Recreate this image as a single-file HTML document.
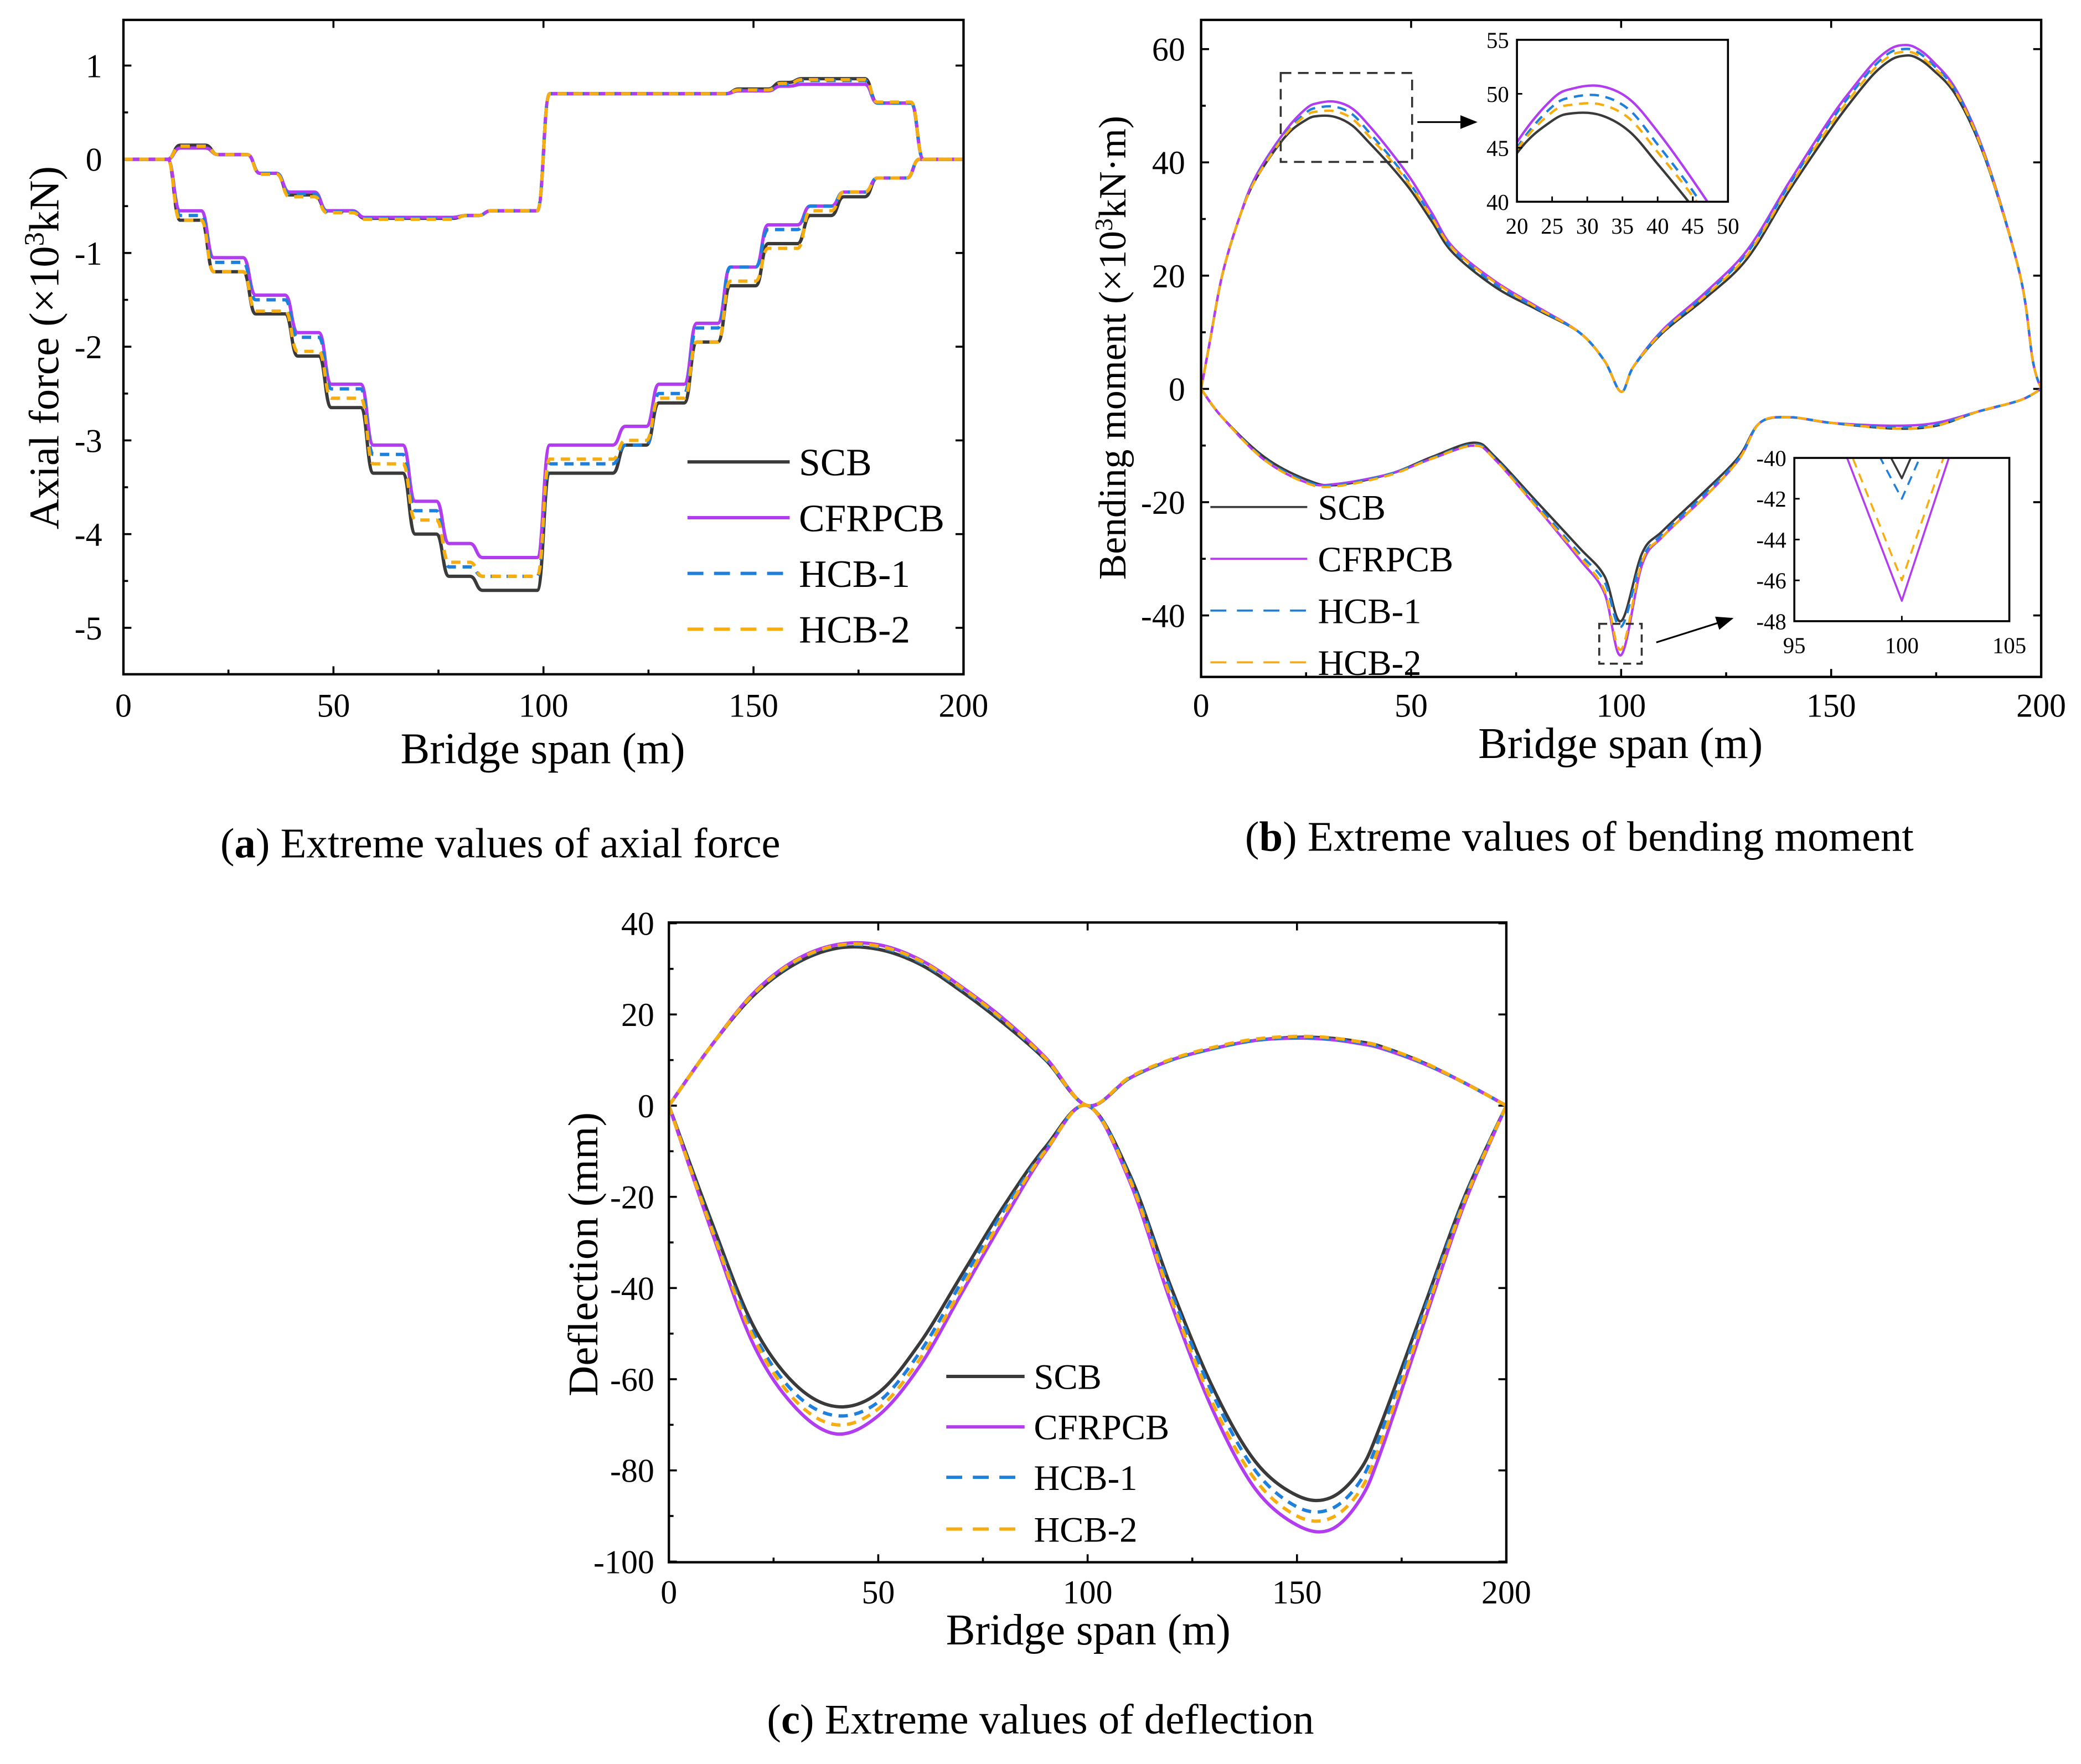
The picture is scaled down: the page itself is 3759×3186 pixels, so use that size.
<!DOCTYPE html>
<html><head><meta charset="utf-8"><title>Extreme values charts</title>
<style>
html,body{margin:0;padding:0;background:#fff;}
svg{display:block;font-family:"Liberation Serif",serif;}
</style></head>
<body>
<svg id="fig" width="3759" height="3186" viewBox="0 0 1568 1329" preserveAspectRatio="none" xmlns="http://www.w3.org/2000/svg">
<defs>
<clipPath id="clipA"><rect x="93" y="15" width="633" height="493"/></clipPath>
<clipPath id="clipB"><rect x="905" y="15" width="633" height="495"/></clipPath>
<clipPath id="clipI1"><rect x="1143" y="30" width="159" height="122"/></clipPath>
<clipPath id="clipI2"><rect x="1352" y="345" width="162" height="123"/></clipPath>
<clipPath id="clipC"><rect x="504" y="695" width="631" height="482"/></clipPath>
<marker id="arr" markerWidth="10" markerHeight="8" refX="9" refY="4" orient="auto"><path d="M0,0 L10,4 L0,8 Z" fill="#000"/></marker>
</defs>
</svg>
<script>
// ---------- DATA ----------
const seriesNames = ['SCB','CFRPCB','HCB-1','HCB-2'];
const axialLowerEdges = [0,12,20,30,40,48,58,68,76,84,100,118,126,135,143,152,162,170,178,188];
const axialLowerSCB = [0,-0.65,-1.2,-1.65,-2.1,-2.65,-3.35,-4.0,-4.45,-4.6,-3.35,-3.05,-2.6,-1.95,-1.35,-0.9,-0.6,-0.4,-0.2,0];
const axialLowerCFRPCB = [0,-0.55,-1.05,-1.45,-1.85,-2.4,-3.05,-3.65,-4.1,-4.25,-3.05,-2.85,-2.4,-1.75,-1.15,-0.7,-0.5,-0.35,-0.2,0];
const axialLowerHCB1 = [0,-0.6,-1.1,-1.5,-1.9,-2.45,-3.15,-3.75,-4.35,-4.45,-3.25,-3.05,-2.5,-1.8,-1.15,-0.75,-0.5,-0.35,-0.2,0];
const axialLowerHCB2 = [0,-0.65,-1.2,-1.62,-2.05,-2.55,-3.25,-3.85,-4.3,-4.45,-3.2,-3.0,-2.55,-1.95,-1.3,-0.95,-0.55,-0.35,-0.2,0];
const axialUpperEdges = [0,12,21,31,38,47,56,80,86,100,145,155,160,178,189];
const axialUpperSCB = [0,0.15,0.05,-0.15,-0.38,-0.55,-0.63,-0.6,-0.55,0.7,0.75,0.82,0.86,0.6,0];
const axialUpperCFRPCB = [0,0.12,0.05,-0.15,-0.35,-0.55,-0.62,-0.6,-0.55,0.7,0.73,0.78,0.8,0.6,0];
const axialUpperHCB1 = [0,0.14,0.05,-0.15,-0.37,-0.56,-0.63,-0.6,-0.55,0.7,0.74,0.8,0.84,0.6,0];
const axialUpperHCB2 = [0,0.14,0.05,-0.16,-0.4,-0.57,-0.64,-0.6,-0.55,0.7,0.74,0.81,0.85,0.61,0];
const axialXTicks = [0,50,100,150,200];
const axialYTicks = [1,0,-1,-2,-3,-4,-5];
const momUpperX = [0,2,5,9,13,20,25,28,32,36,40,45,50,55,60,70,80,90,96,100,103,110,120,130,140,150,155,160,164,167,170,174,180,187,195,198,200];
const momUpperSCB = [0,8,20,30,37,44.5,47.5,48.2,48,46.5,43.5,39.5,35,29.5,24,18,14,10,5,-0.5,4,10,16,23,35,46,51,55.5,58,58.8,58.6,56.5,51.5,40,20,5,0];
const momUpperCFRPCB = [0,8,20,30,37.5,45.5,49.5,50.5,50.7,49.5,46.5,42,37,31,25,19,14.5,10,5,-0.5,4,10.5,17,24.5,36.5,48,53,57.5,60,60.7,60.3,58,52.5,40.5,20,5,0];
const momUpperHCB1 = [0,8,20,30,37.2,45,48.8,49.7,49.8,48.5,45.3,41,36,30.3,24.5,18.5,14.2,10,5,-0.5,4,10.3,16.6,24,36,47.3,52.3,56.8,59.4,60,59.7,57.4,52.2,40.3,20,5,0];
const momUpperHCB2 = [0,8,20,30,37,44.8,48.3,49,49,47.7,44.6,40.5,35.7,30.2,24.7,18.8,14.3,10,5,-0.5,4,10.2,16.4,23.6,35.6,46.8,51.8,56.3,58.8,59.5,59.2,57,52,40.2,20,5,0];
const momLowerX = [0,5,15,25,32,45,55,65,70,80,90,96,100,105,110,120,128,133,140,150,165,175,185,195,200];
const momLowerSCB = [0,-5,-12,-16,-17,-15,-12,-9.5,-12,-20,-28,-33,-41,-29,-25,-18,-12,-6,-5,-6,-7,-6.5,-4,-2,0];
const momLowerCFRPCB = [0,-5,-12.5,-16.5,-16.8,-15,-12.3,-10,-12.5,-21,-30,-36,-47,-31,-26,-19,-12.5,-6,-5,-6,-6.5,-6,-4,-2,0];
const momLowerHCB1 = [0,-5,-12.3,-16.3,-17,-15,-12.2,-9.8,-12.3,-20.5,-29,-34,-42,-30,-25.5,-18.5,-12.3,-6,-5,-6,-6.8,-6.3,-4,-2,0];
const momLowerHCB2 = [0,-5,-12.5,-16.6,-17.2,-15.2,-12.3,-10,-12.5,-21,-29.5,-35.5,-46,-30.5,-26,-19,-12.5,-6,-5,-6,-7,-6.5,-4,-2,0];
const momXTicks = [0,50,100,150,200];
const momYTicks = [60,40,20,0,-20,-40];
const inset1XTicks = [20,25,30,35,40,45,50];
const inset1YTicks = [55,50,45,40];
const inset2XTicks = [95,100,105];
const inset2YTicks = [-40,-42,-44,-46,-48];
const deflX = [0,10,20,30,40,50,60,70,80,90,100,110,120,130,140,150,158,165,170,180,190,200];
const deflUpperSCB = [0,13,24,31,34.5,34.3,31,25,18,10,0,6,10,12.5,14.3,15,14.8,14,13,9.5,5,0];
const deflUpperCFRPCB = [0,13,24.5,31.8,35.3,35.3,32,26,19,10.5,0,6,10,12.5,14.3,14.8,14.5,13.6,12.6,9.3,5,0];
const deflUpperHCB1 = [0,13,24.2,31.4,35,34.8,31.5,25.5,18.5,10.2,0,6,10,12.5,14.3,14.9,14.6,13.8,12.8,9.4,5,0];
const deflUpperHCB2 = [0,13,24.3,31.6,35.1,35,31.8,25.8,18.7,10.3,0,6.2,10.2,12.8,14.6,15.2,14.9,14,13,9.6,5,0];
const deflLowerSCB = [0,-25,-48,-61,-66,-63,-52,-37,-22,-9,0,-15,-40,-62,-78,-85.5,-86,-80,-70,-45,-20,0];
const deflLowerCFRPCB = [0,-27,-52,-66,-72,-68,-57,-41,-25,-10,0,-16.5,-43.5,-67,-84,-92,-93,-86.5,-76,-48.5,-21.5,0];
const deflLowerHCB1 = [0,-26,-49.5,-63,-68,-65,-54,-38.5,-23,-9.5,0,-15.5,-41,-63.5,-80,-88,-88.5,-82.5,-72,-46,-20.5,0];
const deflLowerHCB2 = [0,-26.5,-50.5,-64.5,-70,-66.5,-55.5,-40,-24,-9.8,0,-16,-42.5,-65.5,-82,-90,-90.5,-84.5,-74,-47.5,-21,0];
const deflXTicks = [0,50,100,150,200];
const deflYTicks = [40,20,0,-20,-40,-60,-80,-100];

// ---------- HELPERS ----------
const NS='http://www.w3.org/2000/svg';
const svg=document.getElementById('fig');
const colors={'SCB':'#3a3a3a','CFRPCB':'#b23cf0','HCB-1':'#1f7fdc','HCB-2':'#f7ad10'};
const dashes={'SCB':'','CFRPCB':'','HCB-1':'7,5','HCB-2':'7,5'};
function mk(tag,parent){const e=document.createElementNS(NS,tag);(parent||svg).appendChild(e);return e;}
function lin(d0,d1,r0,r1){return v=>r0+(v-d0)/(d1-d0)*(r1-r0);}
function smoothPath(pts){
  let d='M'+pts[0][0].toFixed(2)+','+pts[0][1].toFixed(2);
  for(let i=0;i<pts.length-1;i++){
    const p0=pts[i-1]||pts[i],p1=pts[i],p2=pts[i+1],p3=pts[i+2]||p2;
    const c1=[p1[0]+(p2[0]-p0[0])/6,p1[1]+(p2[1]-p0[1])/6];
    const c2=[p2[0]-(p3[0]-p1[0])/6,p2[1]-(p3[1]-p1[1])/6];
    d+=' C'+c1[0].toFixed(2)+','+c1[1].toFixed(2)+' '+c2[0].toFixed(2)+','+c2[1].toFixed(2)+' '+p2[0].toFixed(2)+','+p2[1].toFixed(2);
  }
  return d;
}
function stepPts(edges,levels){
  const p=[];const n=edges.length;
  for(let i=0;i<n;i++){
    p.push([i?edges[i]+1.5:edges[i],levels[i]]);
    p.push([i<n-1?edges[i+1]-1.5:200,levels[i]]);
  }
  return p;
}
function stepPath(pts){
  // straight flats with rounded transitions
  let d='M'+pts[0][0].toFixed(2)+','+pts[0][1].toFixed(2);
  for(let i=1;i<pts.length;i++){
    const a=pts[i-1],b=pts[i];
    if(a[1]===b[1]){d+=' L'+b[0].toFixed(2)+','+b[1].toFixed(2);}
    else{const mx=(a[0]+b[0])/2;d+=' C'+mx.toFixed(2)+','+a[1].toFixed(2)+' '+mx.toFixed(2)+','+b[1].toFixed(2)+' '+b[0].toFixed(2)+','+b[1].toFixed(2);}
  }
  return d;
}
function linePath(pts){return 'M'+pts.map(p=>p[0].toFixed(2)+','+p[1].toFixed(2)).join(' L');}
function text(parent,x,y,str,size,anchor,name){
  const t=mk('text',parent);t.setAttribute('x',x);t.setAttribute('y',y);
  t.setAttribute('font-size',size);t.setAttribute('text-anchor',anchor||'middle');t.textContent=str;
  
  
  return t;
}
function frame(g,x,y,w,h,sw,name){
  const r=mk('rect',g);r.setAttribute('x',x);r.setAttribute('y',y);r.setAttribute('width',w);r.setAttribute('height',h);
  r.setAttribute('fill','none');r.setAttribute('stroke','#000');r.setAttribute('stroke-width',sw);
  
  
}
function tick(g,x1,y1,x2,y2,sw){const l=mk('line',g);l.setAttribute('x1',x1);l.setAttribute('y1',y1);l.setAttribute('x2',x2);l.setAttribute('y2',y2);l.setAttribute('stroke','#000');l.setAttribute('stroke-width',sw||1.5);
  
  }
function curve(g,d,series,sw,clip,name){
  const p=mk('path',g);p.setAttribute('d',d);p.setAttribute('fill','none');
  p.setAttribute('stroke',colors[series]);p.setAttribute('stroke-width',sw);
  if(dashes[series])p.setAttribute('stroke-dasharray',dashes[series]);
  p.setAttribute('stroke-linejoin','round');
  if(clip)p.setAttribute('clip-path','url(#'+clip+')');
  
  
  return p;
}
function axes(g,x0,x1,y0,y1,xs,ys,xt,yt,fs,xlabY,ylabX,minor){
  xt.forEach(v=>{const X=xs(v);tick(g,X,y1,X,y1-6);tick(g,X,y0,X,y0+6);text(g,X,xlabY,String(v),fs,'middle','x-tick-label');});
  if(minor){for(let i=0;i<xt.length-1;i++){const X=(xs(xt[i])+xs(xt[i+1]))/2;tick(g,X,y1,X,y1-3.5);}}
  yt.forEach(v=>{const Y=ys(v);tick(g,x0,Y,x0+6,Y);tick(g,x1,Y,x1-6,Y);text(g,ylabX,Y+fs*0.35,String(v),fs,'end','y-tick-label');});
  if(minor){for(let i=0;i<yt.length-1;i++){const Y=(ys(yt[i])+ys(yt[i+1]))/2;tick(g,x0,Y,x0+3.5,Y);}}
}
function legend(g,x1,x2,tx,ys,fs,sw){
  seriesNames.forEach((s,i)=>{
    const l=mk('line',g);l.setAttribute('x1',x1);l.setAttribute('x2',x2);l.setAttribute('y1',ys[i]);l.setAttribute('y2',ys[i]);
    l.setAttribute('stroke',colors[s]);l.setAttribute('stroke-width',sw);if(dashes[s])l.setAttribute('stroke-dasharray','12,8');
    
    
    text(g,tx,ys[i]+fs*0.35,s,fs,'start','legend-label-'+s.toLowerCase());
  });
}
const drawOrder=['SCB','CFRPCB','HCB-1','HCB-2'];

// ---------- CHART A ----------
const gA=mk('g');


const xa=lin(0,200,93,726), ya=lin(0,1,120,49.4);
axes(gA,93,726,15,508,xa,ya,axialXTicks,axialYTicks,25,540,77,true);
const axL={'SCB':axialLowerSCB,'CFRPCB':axialLowerCFRPCB,'HCB-1':axialLowerHCB1,'HCB-2':axialLowerHCB2};
const axU={'SCB':axialUpperSCB,'CFRPCB':axialUpperCFRPCB,'HCB-1':axialUpperHCB1,'HCB-2':axialUpperHCB2};
drawOrder.forEach(s=>{
  curve(gA,stepPath(stepPts(axialLowerEdges,axL[s]).map(p=>[xa(p[0]),ya(p[1])])),s,2.5,'clipA','axial-min-'+s.toLowerCase());
  curve(gA,stepPath(stepPts(axialUpperEdges,axU[s]).map(p=>[xa(p[0]),ya(p[1])])),s,2.5,'clipA','axial-max-'+s.toLowerCase());
});
frame(gA,93,15,633,493,1.8,'plot-frame-a');
legend(gA,518,595,602,[348,390,432,474],29,2.5);
text(gA,409,575,'Bridge span (m)',33,'middle','x-axis-title-a');
const ytA=text(gA,0,0,'',32,'middle','y-axis-title-a');
ytA.setAttribute('transform','translate(44,262) rotate(-90)');
ytA.innerHTML='Axial force (×10<tspan dy="-11" font-size="21">3</tspan><tspan dy="11">kN)</tspan>';
const capA=text(gA,377,646,'',32,'middle','caption-a');
capA.innerHTML='(<tspan font-weight="bold">a</tspan>) Extreme values of axial force';

// ---------- CHART B ----------
const gB=mk('g');


const xb=lin(0,200,905,1538), yb=lin(0,60,293,37);
axes(gB,905,1538,15,510,xb,yb,momXTicks,momYTicks,25,540,893,true);
const mU={'SCB':momUpperSCB,'CFRPCB':momUpperCFRPCB,'HCB-1':momUpperHCB1,'HCB-2':momUpperHCB2};
const mL={'SCB':momLowerSCB,'CFRPCB':momLowerCFRPCB,'HCB-1':momLowerHCB1,'HCB-2':momLowerHCB2};
drawOrder.forEach(s=>{
  curve(gB,smoothPath(momUpperX.map((x,i)=>[xb(x),yb(mU[s][i])])),s,1.8,'clipB','moment-max-'+s.toLowerCase());
  curve(gB,smoothPath(momLowerX.map((x,i)=>[xb(x),yb(mL[s][i])])),s,1.8,'clipB','moment-min-'+s.toLowerCase());
});
frame(gB,905,15,633,495,1.8,'plot-frame-b');
const gI1=mk('g',gB);


const r1=mk('rect',gI1);r1.setAttribute('x',1143);r1.setAttribute('y',30);r1.setAttribute('width',159);r1.setAttribute('height',122);r1.setAttribute('fill','#fff');


const xi1=lin(20,50,1143,1302), yi1=lin(40,55,152,30);
drawOrder.forEach(s=>{
  curve(gI1,smoothPath(momUpperX.map((x,i)=>[xi1(x),yi1(mU[s][i])])),s,1.8,'clipI1','inset1-'+s.toLowerCase());
});
frame(gI1,1143,30,159,122,1.5,'inset-1-frame');
inset1XTicks.forEach(v=>{tick(gI1,xi1(v),152,xi1(v),148,1.2);text(gI1,xi1(v),176,String(v),17,'middle','inset1-x-tick');});
inset1YTicks.forEach(v=>{tick(gI1,1143,yi1(v),1147,yi1(v),1.2);text(gI1,1137,yi1(v)+6,String(v),17,'end','inset1-y-tick');});
const dr1=mk('rect',gB);dr1.setAttribute('x',965);dr1.setAttribute('y',55);dr1.setAttribute('width',99);dr1.setAttribute('height',67);dr1.setAttribute('fill','none');dr1.setAttribute('stroke','#333');dr1.setAttribute('stroke-width',1.5);dr1.setAttribute('stroke-dasharray','8,5');


const a1=mk('line',gB);a1.setAttribute('x1',1068);a1.setAttribute('y1',92);a1.setAttribute('x2',1112);a1.setAttribute('y2',92);a1.setAttribute('stroke','#000');a1.setAttribute('stroke-width',1.3);a1.setAttribute('marker-end','url(#arr)');


const gI2=mk('g',gB);


const r2=mk('rect',gI2);r2.setAttribute('x',1352);r2.setAttribute('y',345);r2.setAttribute('width',162);r2.setAttribute('height',123);r2.setAttribute('fill','#fff');


const xi2=lin(95,105,1352,1514), yi2=lin(-40,-48,345,468);
drawOrder.forEach(s=>{
  curve(gI2,linePath(momLowerX.map((x,i)=>[xi2(x),yi2(mL[s][i])])),s,1.5,'clipI2','inset2-'+s.toLowerCase());
});
frame(gI2,1352,345,162,123,1.5,'inset-2-frame');
inset2XTicks.forEach(v=>{tick(gI2,xi2(v),468,xi2(v),464,1.2);text(gI2,xi2(v),492,String(v),17,'middle','inset2-x-tick');});
inset2YTicks.forEach(v=>{tick(gI2,1352,yi2(v),1356,yi2(v),1.2);text(gI2,1346,yi2(v)+6,String(v),17,'end','inset2-y-tick');});
const dr2=mk('rect',gB);dr2.setAttribute('x',1205);dr2.setAttribute('y',470);dr2.setAttribute('width',32);dr2.setAttribute('height',30);dr2.setAttribute('fill','none');dr2.setAttribute('stroke','#333');dr2.setAttribute('stroke-width',1.5);dr2.setAttribute('stroke-dasharray','6,4');


const a2=mk('line',gB);a2.setAttribute('x1',1248);a2.setAttribute('y1',484);a2.setAttribute('x2',1305);a2.setAttribute('y2',466);a2.setAttribute('stroke','#000');a2.setAttribute('stroke-width',1.3);a2.setAttribute('marker-end','url(#arr)');


legend(gB,912,985,993,[382,421,460,499],27,1.6);
text(gB,1221,571,'Bridge span (m)',33,'middle','x-axis-title-b');
const ytB=text(gB,0,0,'',29,'middle','y-axis-title-b');
ytB.setAttribute('transform','translate(848,262) rotate(-90)');
ytB.innerHTML='Bending moment (×10<tspan dy="-10" font-size="19">3</tspan><tspan dy="10">kN·m)</tspan>';
const capB=text(gB,1190,641,'',32,'middle','caption-b');
capB.innerHTML='(<tspan font-weight="bold">b</tspan>) Extreme values of bending moment';

// ---------- CHART C ----------
const gC=mk('g');


const xc=lin(0,200,504,1135), yc=lin(0,40,833,695.6);
axes(gC,504,1135,695,1177,xc,yc,deflXTicks,deflYTicks,25,1208,493,true);
const dU={'SCB':deflUpperSCB,'CFRPCB':deflUpperCFRPCB,'HCB-1':deflUpperHCB1,'HCB-2':deflUpperHCB2};
const dL={'SCB':deflLowerSCB,'CFRPCB':deflLowerCFRPCB,'HCB-1':deflLowerHCB1,'HCB-2':deflLowerHCB2};
drawOrder.forEach(s=>{
  curve(gC,smoothPath(deflX.map((x,i)=>[xc(x),yc(dU[s][i])])),s,2.5,'clipC','deflection-max-'+s.toLowerCase());
  curve(gC,smoothPath(deflX.map((x,i)=>[xc(x),yc(dL[s][i])])),s,2.5,'clipC','deflection-min-'+s.toLowerCase());
});
frame(gC,504,695,631,482,1.8,'plot-frame-c');
legend(gC,713,772,779,[1037,1075,1113,1152],27,2.5);
text(gC,820,1239,'Bridge span (m)',33,'middle','x-axis-title-c');
const ytC=text(gC,0,0,'Deflection (mm)',32,'middle','y-axis-title-c');
ytC.setAttribute('transform','translate(450,945) rotate(-90)');
const capC=text(gC,784,1306,'',32,'middle','caption-c');
capC.innerHTML='(<tspan font-weight="bold">c</tspan>) Extreme values of deflection';
</script>
</body></html>
